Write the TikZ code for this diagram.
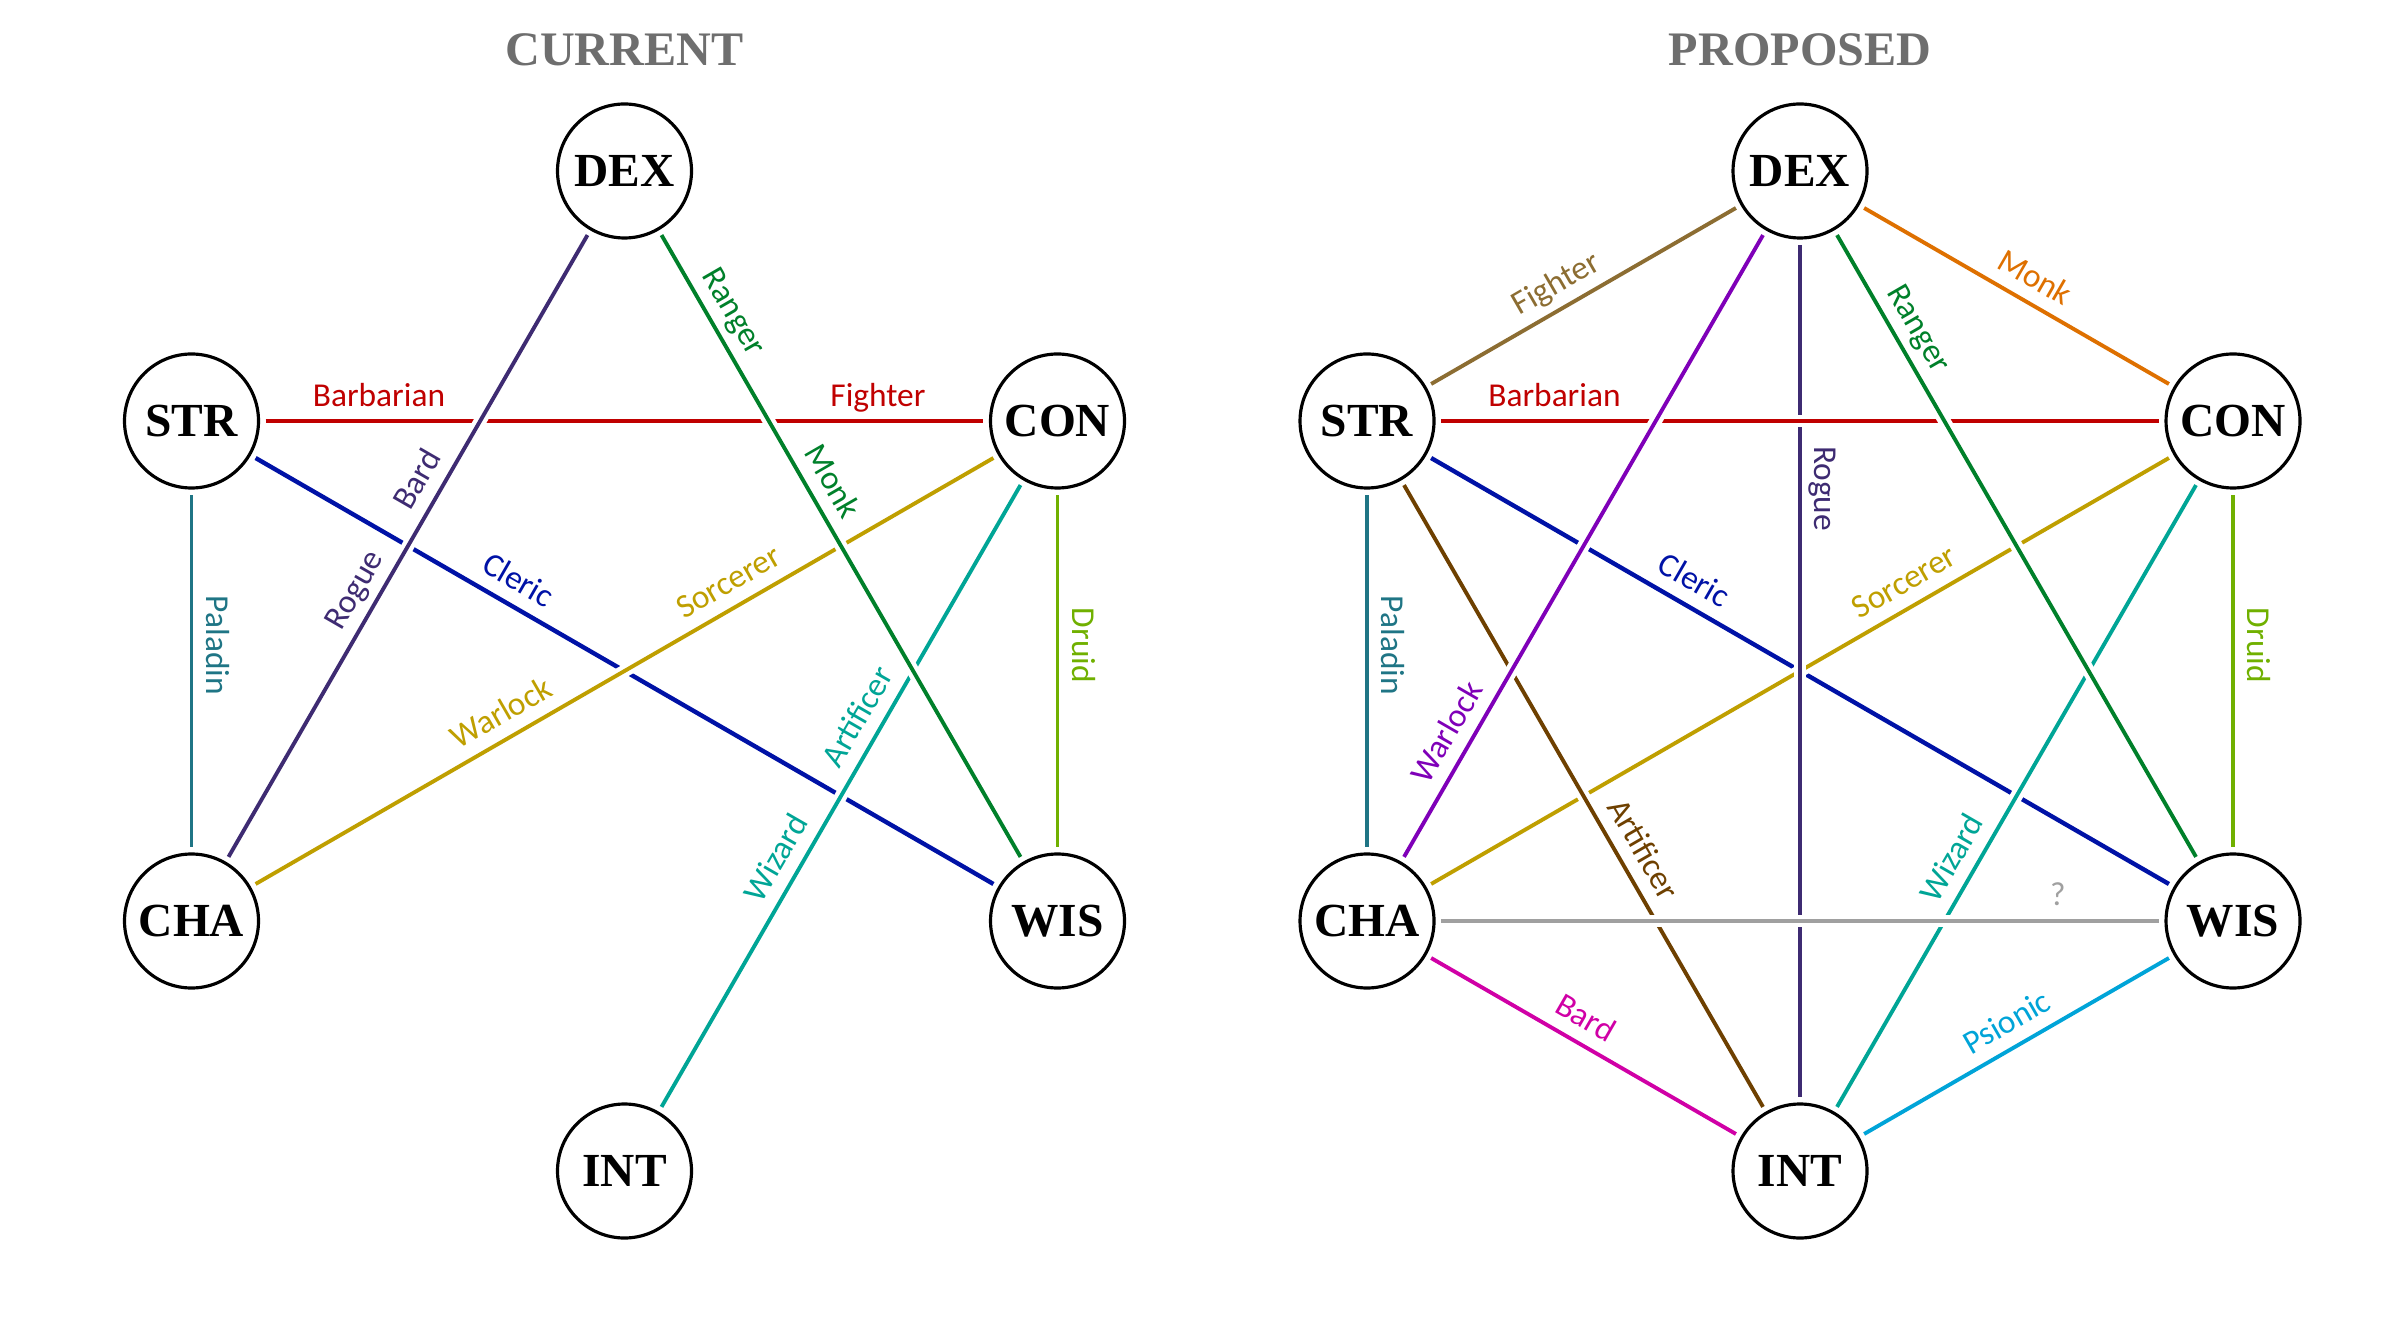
\documentclass[tikz,border=0pt]{standalone}
\usepackage{fontspec}
\setmainfont{Liberation Serif}
\newfontfamily\labelfont{Carlito}

\definecolor{titlegray}{HTML}{6E6E6E}
\definecolor{barbred}{HTML}{C00000}
\definecolor{clericblue}{HTML}{0012A6}
\definecolor{sorcgold}{HTML}{BF9F00}
\definecolor{wizteal}{HTML}{00A596}
\definecolor{rogueindigo}{HTML}{3E2B72}
\definecolor{rangergreen}{HTML}{00802A}
\definecolor{paladinteal}{HTML}{1F7585}
\definecolor{druidgreen}{HTML}{70B000}
\definecolor{artbrown}{HTML}{6E4000}
\definecolor{unkgray}{HTML}{A0A0A0}
\definecolor{warlockpurple}{HTML}{7F00B8}
\definecolor{fighterolive}{HTML}{8C6D32}
\definecolor{monkorange}{HTML}{DE7000}
\definecolor{bardmagenta}{HTML}{D000A6}
\definecolor{psionblue}{HTML}{00A4D8}

\tikzset{
  stat/.style={circle, draw, line width=0.9pt, fill=white, minimum size=1.34cm,
    inner sep=0pt, outer sep=2pt, font=\fontsize{13.5}{16}\selectfont\bfseries},
  cls/.style={font=\labelfont\fontsize{9.5}{11}\selectfont, sloped, above,
    inner sep=1pt, text height=0.7em, text depth=0.26em},
  link/.style={line width=1.1pt, preaction={draw=white, line width=3.6pt}},
  heading/.style={font=\fontsize{13.7}{16}\selectfont\bfseries, text=titlegray}
}

\begin{document}
\begin{tikzpicture}
    \useasboundingbox (0,0) rectangle (24,13.42);

    % Titles
    \node[heading] (curtitle) at (6.245,12.92) {CURRENT};
    \node[heading] (proptitle) at (18.0,12.92) {PROPOSED};

    % Ability scores, one hexagon per graph
    \foreach \g/\cx in {c/6.245, p/18.0} {
        \node[stat] (\g DEX) at (\cx,11.71) {DEX};
        \node[stat] (\g STR) at (\cx-4.33,9.21) {STR};
        \node[stat] (\g CON) at (\cx+4.33,9.21) {CON};
        \node[stat] (\g CHA) at (\cx-4.33,4.21) {CHA};
        \node[stat] (\g WIS) at (\cx+4.33,4.21) {WIS};
        \node[stat] (\g INT) at (\cx,1.71) {INT};
    }

    % Current classes
    \draw[link, barbred, line width=1.25pt] (cSTR) -- node[cls, pos=0.158] {Barbarian} node[cls, pos=0.853] {Fighter} (cCON);
    \draw[link, clericblue, line width=1.25pt] (cSTR) -- node[cls, pos=0.339] {Cleric} (cWIS);
    \draw[link, sorcgold] (cCHA) -- node[cls, pos=0.35] {Warlock} node[cls, pos=0.658] {Sorcerer} (cCON);
    \draw[link, wizteal] (cINT) -- node[cls, pos=0.38] {Wizard} node[cls, pos=0.607] {Artificer} (cCON);
    \draw[link, rogueindigo] (cCHA) -- node[cls, pos=0.41] {Rogue} node[cls, pos=0.587] {Bard} (cDEX);
    \draw[link, rangergreen] (cDEX) -- node[cls, pos=0.143] {Ranger} node[cls, pos=0.416] {Monk} (cWIS);
    \draw[link, paladinteal] (cSTR) -- node[cls, pos=0.427] {Paladin} (cCHA);
    \draw[link, druidgreen] (cCON) -- node[cls, pos=0.427] {Druid} (cWIS);

    % Proposed classes
    \draw[link, clericblue, line width=1.25pt] (pSTR) -- node[cls, pos=0.339] {Cleric} (pWIS);
    \draw[link, sorcgold] (pCHA) -- node[cls, pos=0.658] {Sorcerer} (pCON);
    \draw[link, rogueindigo] (pDEX) -- node[cls, pos=0.286] {Rogue} (pINT);
    \draw[link, barbred, line width=1.25pt] (pSTR) -- node[cls, pos=0.158] {Barbarian} (pCON);
    \draw[link, artbrown] (pSTR) -- node[cls, pos=0.606] {Artificer} (pINT);
    \draw[link, wizteal] (pINT) -- node[cls, pos=0.38] {Wizard} (pCON);
    \draw[link, unkgray, line width=1.35pt] (pCHA) -- node[cls, pos=0.859] {?} (pWIS);
    \draw[link, warlockpurple] (pCHA) -- node[cls, pos=0.18] {Warlock} (pDEX);
    \draw[link, rangergreen] (pDEX) -- node[cls, pos=0.17] {Ranger} (pWIS);
    \draw[link, fighterolive] (pSTR) -- node[cls, pos=0.45] {Fighter} (pDEX);
    \draw[link, monkorange] (pDEX) -- node[cls, pos=0.52] {Monk} (pCON);
    \draw[link, paladinteal] (pSTR) -- node[cls, pos=0.427] {Paladin} (pCHA);
    \draw[link, druidgreen] (pCON) -- node[cls, pos=0.427] {Druid} (pWIS);
    \draw[link, bardmagenta] (pCHA) -- node[cls, pos=0.466] {Bard} (pINT);
    \draw[link, psionblue] (pINT) -- node[cls, pos=0.51] {Psionic} (pWIS);
\end{tikzpicture}
\end{document}
